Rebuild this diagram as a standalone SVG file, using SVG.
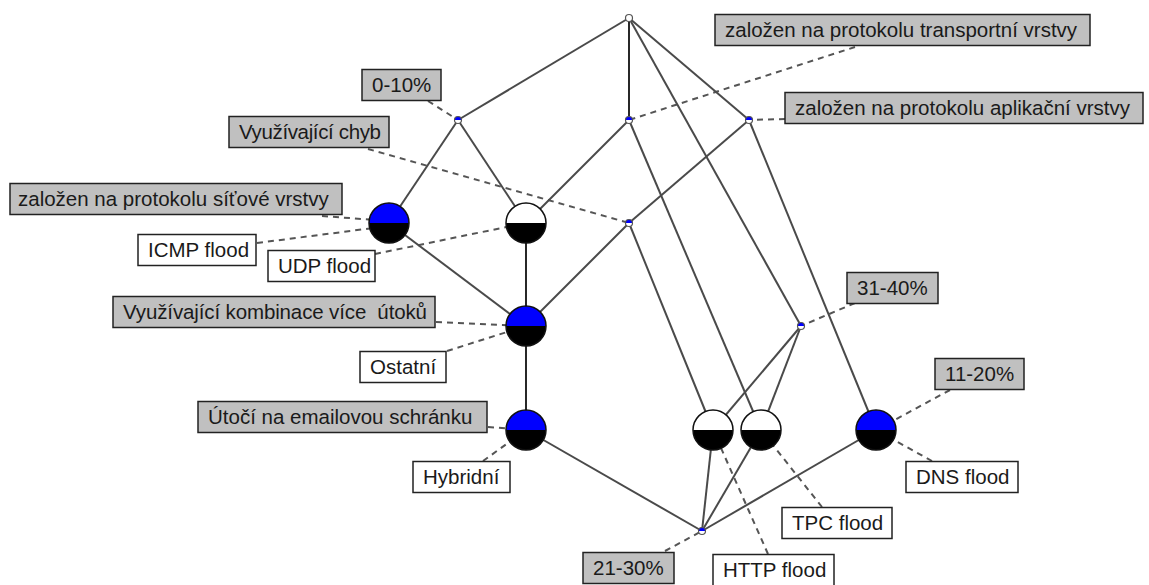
<svg xmlns="http://www.w3.org/2000/svg" xmlns:xlink="http://www.w3.org/1999/xlink" width="1149" height="585" viewBox="0 0 1149 585">
  <style>
    .edge { stroke: #4a4a4a; stroke-width: 2; fill: none; }
    .edge.v { stroke: #111; stroke-width: 1.8; }
    .lead { stroke: #555; stroke-width: 2; stroke-dasharray: 6 5; fill: none; }
    .attr rect { fill: #c0c0c0; stroke: #222; stroke-width: 1.5; }
    .obj rect { fill: #fff; stroke: #222; stroke-width: 1.5; }
    text { font-family: "Liberation Sans", Arial, sans-serif; font-size: 20.5px; fill: #1a1a1a; }
    .blue { fill: #0000ff; }
    .white { fill: #fff; }
    .black { fill: #000; }
    .ring { fill: none; stroke: #111; stroke-width: 1.5; }
    .dot { stroke: #555; stroke-width: 1.2; }
  </style>
  <defs>
    <!-- large concept: upper and lower half-discs, radius 20 -->
    <path id="bigUpper" d="M-20,0 A20,20 0 0 1 20,0 Z"/>
    <path id="bigLower" d="M-20,0 A20,20 0 0 0 20,0 Z"/>
    <circle id="bigRing" r="20"/>
    <!-- small concept, radius 3.5 -->
    <path id="smallUpper" d="M-3.5,0 A3.5,3.5 0 0 1 3.5,0 Z"/>
    <circle id="smallRing" r="3.5"/>
  </defs>

  <rect width="1149" height="585" fill="#fff"/>

  <!-- dashed leaders from labels to their concepts -->
  <g id="leaders">
    <line class="lead" x1="428" y1="101" x2="458" y2="120"/>
    <line class="lead" x1="855" y1="47" x2="629" y2="120"/>
    <line class="lead" x1="785" y1="119" x2="749" y2="120"/>
    <line class="lead" x1="368" y1="149" x2="629" y2="223"/>
    <line class="lead" x1="322" y1="216" x2="389" y2="221"/>
    <line class="lead" x1="257" y1="243" x2="389" y2="226"/>
    <line class="lead" x1="375" y1="254" x2="526" y2="223"/>
    <line class="lead" x1="436" y1="322" x2="526" y2="326"/>
    <line class="lead" x1="447" y1="351" x2="526" y2="326"/>
    <line class="lead" x1="488" y1="427" x2="526" y2="430"/>
    <line class="lead" x1="483" y1="461" x2="526" y2="430"/>
    <line class="lead" x1="855" y1="303" x2="801" y2="326"/>
    <line class="lead" x1="950" y1="390" x2="876" y2="430"/>
    <line class="lead" x1="932" y1="461" x2="876" y2="430"/>
    <line class="lead" x1="822" y1="507" x2="761" y2="430"/>
    <line class="lead" x1="768" y1="554" x2="713" y2="430"/>
    <line class="lead" x1="665" y1="551" x2="702" y2="531"/>
  </g>

  <!-- lattice edges -->
  <g id="edges">
    <line class="edge" x1="629" y1="18" x2="458" y2="120"/>
    <line class="edge v" x1="629" y1="18" x2="629" y2="120"/>
    <line class="edge" x1="629" y1="18" x2="749" y2="120"/>
    <line class="edge" x1="629" y1="18" x2="801" y2="326"/>
    <line class="edge" x1="458" y1="120" x2="389" y2="223"/>
    <line class="edge" x1="458" y1="120" x2="526" y2="223"/>
    <line class="edge" x1="629" y1="120" x2="526" y2="223"/>
    <line class="edge" x1="629" y1="120" x2="761" y2="430"/>
    <line class="edge" x1="749" y1="120" x2="629" y2="223"/>
    <line class="edge" x1="749" y1="120" x2="876" y2="430"/>
    <line class="edge" x1="629" y1="223" x2="526" y2="326"/>
    <line class="edge" x1="629" y1="223" x2="713" y2="430"/>
    <line class="edge" x1="389" y1="223" x2="526" y2="326"/>
    <line class="edge v" x1="526" y1="223" x2="526" y2="326"/>
    <line class="edge v" x1="526" y1="326" x2="526" y2="430"/>
    <line class="edge" x1="801" y1="326" x2="713" y2="430"/>
    <line class="edge" x1="801" y1="326" x2="761" y2="430"/>
    <line class="edge" x1="526" y1="430" x2="702" y2="531"/>
    <line class="edge" x1="713" y1="430" x2="702" y2="531"/>
    <line class="edge" x1="761" y1="430" x2="702" y2="531"/>
    <line class="edge" x1="876" y1="430" x2="702" y2="531"/>
  </g>

  <!-- small concepts -->
  <g id="n-top" transform="translate(629,18)">
    <use xlink:href="#smallRing" class="white dot"/>
  </g>
  <g id="n-0-10" transform="translate(458,120)">
    <use xlink:href="#smallRing" class="white"/>
    <use xlink:href="#smallUpper" class="blue"/>
    <use xlink:href="#smallRing" class="dot" fill="none"/>
  </g>
  <g id="n-transport" transform="translate(629,120)">
    <use xlink:href="#smallRing" class="white"/>
    <use xlink:href="#smallUpper" class="blue"/>
    <use xlink:href="#smallRing" class="dot" fill="none"/>
  </g>
  <g id="n-aplikacni" transform="translate(749,120)">
    <use xlink:href="#smallRing" class="white"/>
    <use xlink:href="#smallUpper" class="blue"/>
    <use xlink:href="#smallRing" class="dot" fill="none"/>
  </g>
  <g id="n-chyb" transform="translate(629,223)">
    <use xlink:href="#smallRing" class="white"/>
    <use xlink:href="#smallUpper" class="blue"/>
    <use xlink:href="#smallRing" class="dot" fill="none"/>
  </g>
  <g id="n-31-40" transform="translate(801,326)">
    <use xlink:href="#smallRing" class="white"/>
    <use xlink:href="#smallUpper" class="blue"/>
    <use xlink:href="#smallRing" class="dot" fill="none"/>
  </g>
  <g id="n-21-30" transform="translate(702,531)">
    <use xlink:href="#smallRing" class="white"/>
    <use xlink:href="#smallUpper" class="blue"/>
    <use xlink:href="#smallRing" class="dot" fill="none"/>
  </g>

  <!-- large concepts -->
  <g id="n-icmp" transform="translate(389,223)">
    <use xlink:href="#bigUpper" class="blue"/>
    <use xlink:href="#bigLower" class="black"/>
    <use xlink:href="#bigRing" class="ring"/>
  </g>
  <g id="n-udp" transform="translate(526,223)">
    <use xlink:href="#bigUpper" class="white"/>
    <use xlink:href="#bigLower" class="black"/>
    <use xlink:href="#bigRing" class="ring"/>
  </g>
  <g id="n-ostatni" transform="translate(526,326)">
    <use xlink:href="#bigUpper" class="blue"/>
    <use xlink:href="#bigLower" class="black"/>
    <use xlink:href="#bigRing" class="ring"/>
  </g>
  <g id="n-hybridni" transform="translate(526,430)">
    <use xlink:href="#bigUpper" class="blue"/>
    <use xlink:href="#bigLower" class="black"/>
    <use xlink:href="#bigRing" class="ring"/>
  </g>
  <g id="n-http" transform="translate(713,430)">
    <use xlink:href="#bigUpper" class="white"/>
    <use xlink:href="#bigLower" class="black"/>
    <use xlink:href="#bigRing" class="ring"/>
  </g>
  <g id="n-tpc" transform="translate(761,430)">
    <use xlink:href="#bigUpper" class="white"/>
    <use xlink:href="#bigLower" class="black"/>
    <use xlink:href="#bigRing" class="ring"/>
  </g>
  <g id="n-dns" transform="translate(876,430)">
    <use xlink:href="#bigUpper" class="blue"/>
    <use xlink:href="#bigLower" class="black"/>
    <use xlink:href="#bigRing" class="ring"/>
  </g>

  <!-- attribute labels (grey) -->
  <g id="labels-attr" class="attr">
    <g id="l-0-10"><rect x="362" y="69.5" width="79" height="31"/><text x="372" y="92">0-10%</text></g>
    <g id="l-transport"><rect x="715" y="14.5" width="375" height="31"/><text x="725" y="37">založen na protokolu transportní vrstvy</text></g>
    <g id="l-aplikacni"><rect x="785" y="92.5" width="358" height="31"/><text x="795" y="115">založen na protokolu aplikační vrstvy</text></g>
    <g id="l-chyb"><rect x="229" y="116.5" width="160" height="31"/><text x="239" y="139" textLength="142">Využívající chyb</text></g>
    <g id="l-sitove"><rect x="10" y="183.5" width="332" height="31"/><text x="18" y="206">založen na protokolu síťové vrstvy</text></g>
    <g id="l-kombinace"><rect x="113" y="296.5" width="322" height="31"/><text x="123" y="319" textLength="304" xml:space="preserve">Využívající kombinace více  útoků</text></g>
    <g id="l-email"><rect x="198" y="401.5" width="289" height="31"/><text x="208" y="424">Útočí na emailovou schránku</text></g>
    <g id="l-31-40"><rect x="847" y="272.5" width="91" height="31"/><text x="857" y="295">31-40%</text></g>
    <g id="l-11-20"><rect x="935" y="358.5" width="89" height="31"/><text x="945" y="381">11-20%</text></g>
    <g id="l-21-30"><rect x="583" y="552.5" width="91" height="31"/><text x="593" y="575">21-30%</text></g>
  </g>

  <!-- object labels (white) -->
  <g id="labels-obj" class="obj">
    <g id="l-icmp"><rect x="138" y="234.5" width="118" height="31"/><text x="148" y="257">ICMP flood</text></g>
    <g id="l-udp"><rect x="268" y="250.5" width="107" height="31"/><text x="278" y="273">UDP flood</text></g>
    <g id="l-ostatni"><rect x="360" y="351.5" width="86" height="31"/><text x="370" y="374">Ostatní</text></g>
    <g id="l-hybridni"><rect x="413" y="461.5" width="97" height="31"/><text x="423" y="484">Hybridní</text></g>
    <g id="l-dns"><rect x="906" y="461.5" width="112" height="31"/><text x="916" y="484">DNS flood</text></g>
    <g id="l-tpc"><rect x="782" y="507.5" width="110" height="31"/><text x="792" y="530">TPC flood</text></g>
    <g id="l-http"><rect x="713" y="554.5" width="121" height="32"/><text x="723" y="577">HTTP flood</text></g>
  </g>
</svg>
